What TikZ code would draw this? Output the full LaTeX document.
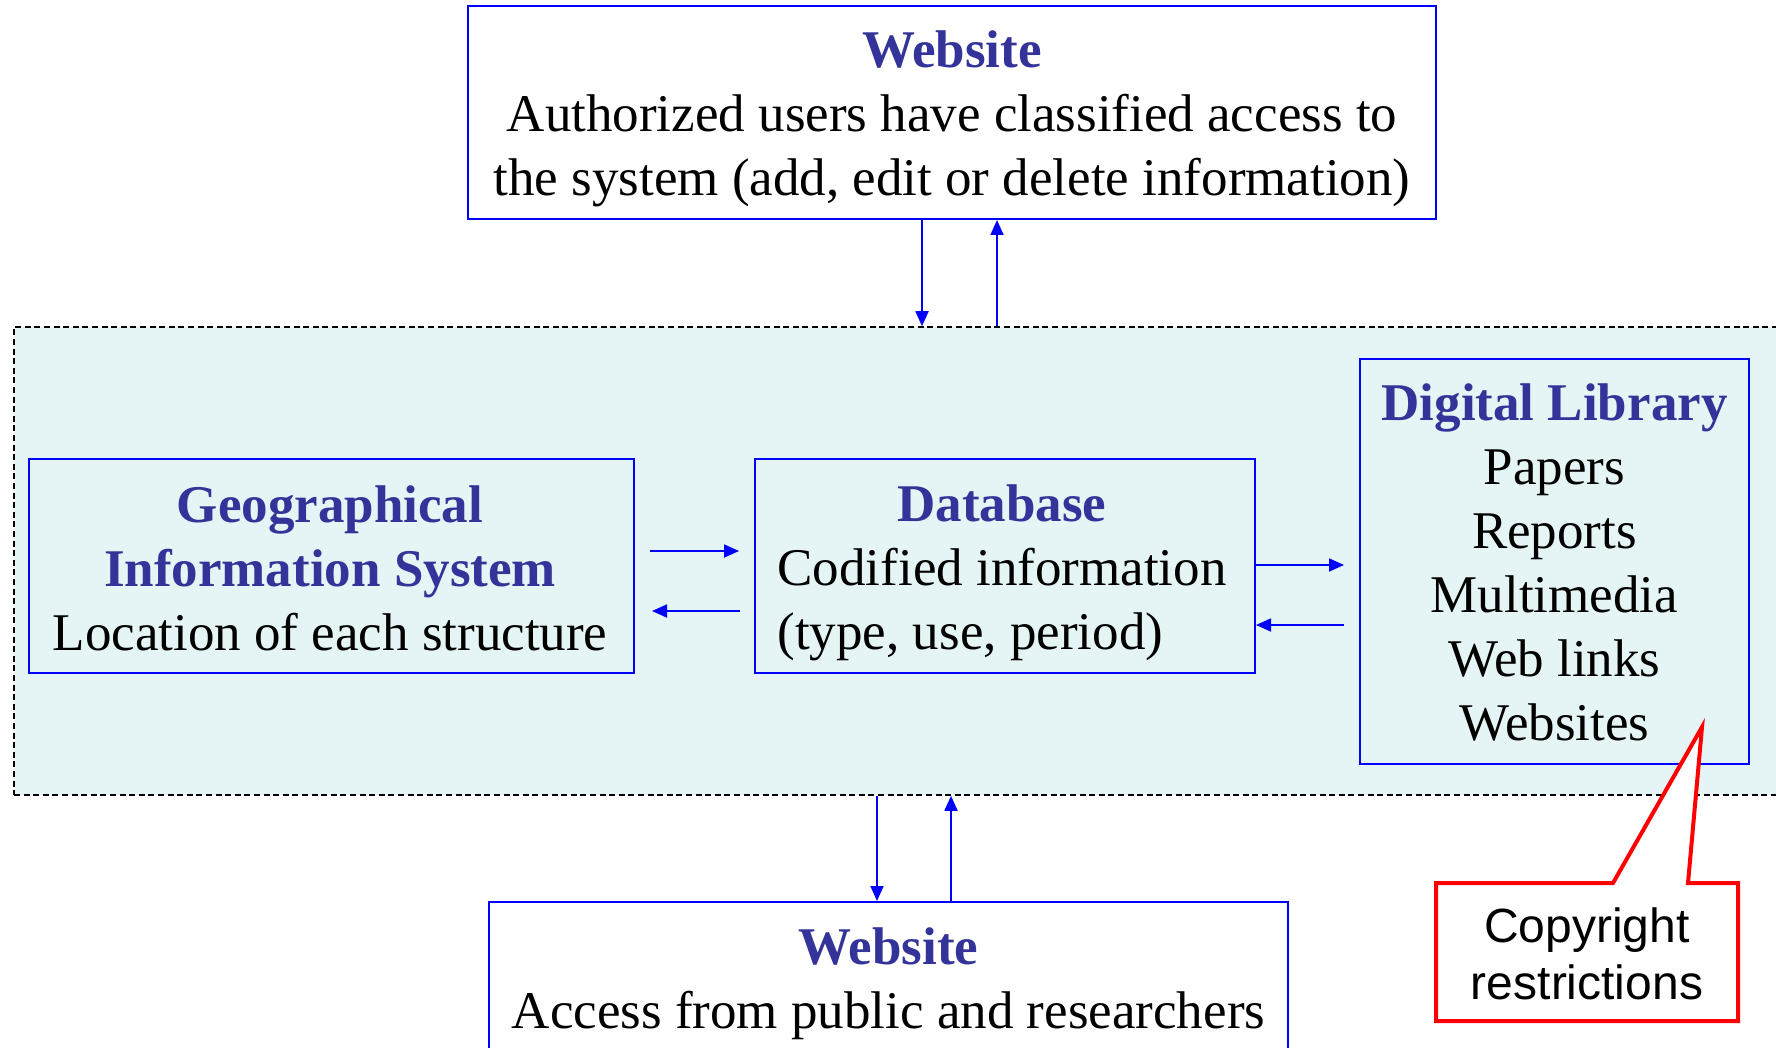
\documentclass[tikz,border=0pt]{standalone}
\usepackage{fontspec}
\setmainfont{Liberation Serif}
\newfontfamily\calloutfont{Liberation Sans}
\usetikzlibrary{arrows.meta}
\definecolor{titleblue}{RGB}{51,51,153}
\definecolor{boxblue}{RGB}{0,0,255}
\definecolor{panelfill}{RGB}{229,244,244}
\definecolor{calloutred}{RGB}{255,0,0}
\newcommand\boxtitle[1]{{\bfseries\color{titleblue}#1}}
\begin{document}
\begin{tikzpicture}[x=0.5pt,y=-0.5pt,
  bluebox/.style={draw=boxblue, line width=1pt, inner sep=0pt},
  boxtext/.style={inner sep=0pt, align=center, font=\fontsize{26.5}{32}\selectfont},
  panelbox/.style={draw=black, fill=panelfill, line width=0.8pt,
    dash pattern=on 3pt off 1.8pt, inner sep=0pt},
  arr/.style={-{Triangle[length=7.5pt,width=6.5pt]}, draw=boxblue, line width=0.9pt},
  calloutshape/.style={draw=calloutred, fill=white, line width=2pt, line join=miter},
  callouttext/.style={font=\calloutfont\fontsize{24}{28.5}\selectfont, align=center, inner sep=0pt}
]
\useasboundingbox (0,0) rectangle (1776,1048);
\fill[white] (0,0) rectangle (1776,1048);

% system panel
\node[panelbox, minimum width=888pt, minimum height=234pt] (sys) at (902,561) {};

% top website
\node[bluebox, minimum width=484pt, minimum height=106.5pt] (web1) at (952,112.5) {};
\node[boxtext] (web1t) at (952,119)
  {\boxtitle{Website}\\Authorized users have classified access to\\the system (add, edit or delete information)};

% GIS
\node[bluebox, minimum width=302.5pt, minimum height=107pt] (gis) at (331.5,566) {};
\node[boxtext] (gist) at (330,568)
  {\boxtitle{Geographical}\\\boxtitle{Information System}\\Location of each structure};

% Database
\node[bluebox, minimum width=250pt, minimum height=107pt] (db) at (1005,566) {};
\node[boxtext] (dbt) at (1002,573)
  {\begin{tabular}{@{}l@{}}\multicolumn{1}{c}{\boxtitle{Database}}\\Codified information\\(type, use, period)\end{tabular}};

% Digital library
\node[bluebox, minimum width=194.5pt, minimum height=202.5pt] (dl) at (1554.5,561) {};
\node[boxtext] (dlt) at (1554.5,563)
  {\boxtitle{Digital Library}\\Papers\\Reports\\Multimedia\\Web links\\Websites};

% bottom website
\node[bluebox, minimum width=399.5pt, minimum height=76pt] (web2) at (888.5,978) {};
\node[boxtext] (web2t) at (888.5,984)
  {\boxtitle{Website}\\Access from public and researchers};

% helper coordinates
\coordinate (xa) at (922,0);
\coordinate (xb) at (997,0);
\coordinate (xc) at (877,0);
\coordinate (xd) at (951,0);
\coordinate (ya) at (0,551);
\coordinate (yb) at (0,611);
\coordinate (yc) at (0,565);
\coordinate (yd) at (0,625);

% vertical connectors
\draw[arr] (web1.south -| xa) -- (sys.north -| xa);
\draw[arr] (sys.north -| xb) -- (web1.south -| xb);
\draw[arr] (sys.south -| xc) -- (web2.north -| xc);
\draw[arr] (web2.north -| xd) -- (sys.south -| xd);

% horizontal connectors
\draw[arr, shorten <=7.5pt, shorten >=7.5pt] (gis.east |- ya) -- (db.west |- ya);
\draw[arr, shorten <=7pt, shorten >=8.5pt] (db.west |- yb) -- (gis.east |- yb);
\draw[arr, shorten >=7.5pt] (db.east |- yc) -- (dl.west |- yc);
\draw[arr, shorten <=7.5pt] (dl.west |- yd) -- (db.east |- yd);

% callout
\draw[calloutshape] (1436,883) -- (1613,883) -- (1702,727) -- (1688,883) -- (1738,883)
  -- (1738,1021) -- (1436,1021) -- cycle;
\node[callouttext] (copy) at (1587,954) {Copyright\\restrictions};
\end{tikzpicture}
\end{document}
